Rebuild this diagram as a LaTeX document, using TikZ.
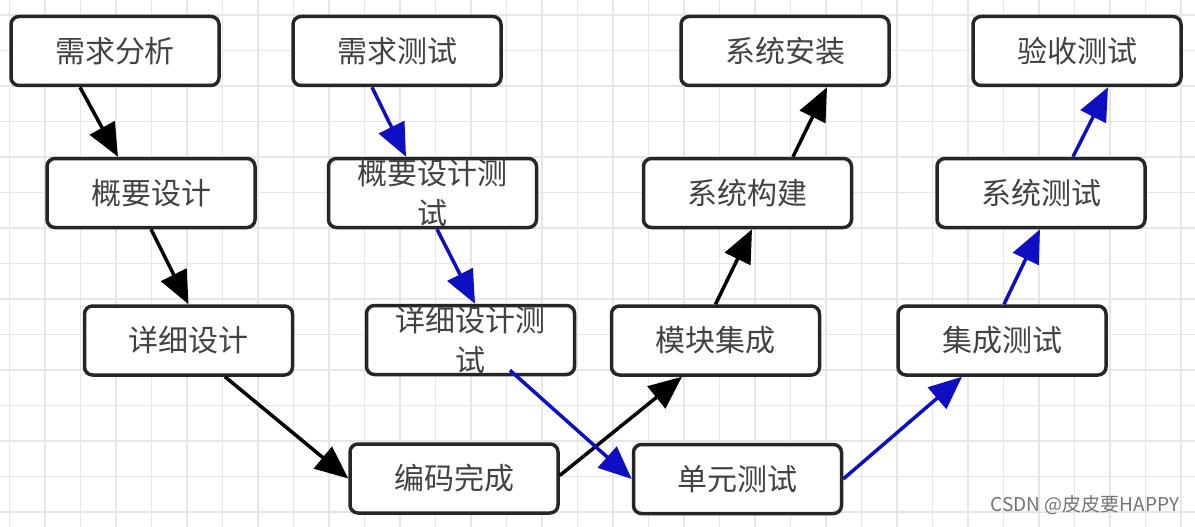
\documentclass[tikz,border=0pt]{standalone}
\usepackage{fontspec}
\setmainfont{Noto Sans CJK SC}
\usetikzlibrary{arrows.meta}
\definecolor{txtgray}{RGB}{66,66,66}
\definecolor{edgeblue}{RGB}{14,14,195}
\definecolor{gridgray}{RGB}{230,230,230}
\tikzset{
  stage/.style={draw=black!85,line width=3.5pt,rounded corners=8pt,fill=white,
    minimum width=208pt,minimum height=69pt,inner sep=0pt,text=txtgray,
    font=\fontsize{30}{40}\selectfont,align=center},
  blk/.style={line width=3.5pt,black,-{Triangle[length=33pt,width=28pt]}},
  blu/.style={blk,edgeblue}
}
\begin{document}
\begin{tikzpicture}[x=1pt,y=-1pt]
    \fill[white] (0,0) rectangle (1195,527);
    \useasboundingbox (0,0) rectangle (1195,527);
    % grid
    \foreach \gx in {9.5,45,...,1195} \draw[gridgray,line width=1.2pt] (\gx,0) -- (\gx,527);
    \foreach \gy in {15,50.5,...,527} \draw[gridgray,line width=1.2pt] (0,\gy) -- (1195,\gy);

    \node at (115,51) [stage] (a) {需求分析};
    \node at (397,51) [stage] (b) {需求测试};
    \node at (785,51) [stage] (c) {系统安装};
    \node at (1077,51) [stage] (d) {验收测试};

    \node at (151,193) [stage] (e) {概要设计};
    \node at (432.5,193) [stage] (f) {概要设计测\\试};
    \node at (747.5,193) [stage] (g) {系统构建};
    \node at (1041,193) [stage] (h) {系统测试};

    \node at (188.5,340.5) [stage] (i) {详细设计};
    \node at (470.5,340) [stage] (j) {详细设计测\\试};
    \node at (715.5,340.5) [stage] (k) {模块集成};
    \node at (1002,340.5) [stage] (l) {集成测试};

    \node at (454,478.5) [stage] (m) {编码完成};
    \node at (737.5,479) [stage] (n) {单元测试};

    \node at (1085,505) [text=black!55,font=\fontsize{19}{19}\selectfont] (wm) {CSDN @皮皮要HAPPY};

    % left branch
    \draw[blk] ([xshift=-35]a.south) -- ([xshift=-33]e.north);
    \draw[blk] (e.south) -- (i.north);
    \draw[blk] ([xshift=36.5]i.south) -- (m.west);
    \draw[blk] ([yshift=3]m.east) -- ([xshift=-33.5]k.south);
    \draw[blk] (k.north) -- ([xshift=4.5]g.south);
    \draw[blk] ([xshift=45.5]g.north) -- ([xshift=42]c.south);
    % test branch
    \draw[blu] ([xshift=-25]b.south) -- ([xshift=-26.5]f.north);
    \draw[blu] ([xshift=4.5]f.south) -- ([xshift=4.5]j.north);
    \draw[blu] ([xshift=39.5,yshift=6]j.south) -- (n.west);
    \draw[blu] (n.east) -- ([xshift=-40]l.south);
    \draw[blu] ([xshift=2]l.north) -- ([xshift=-1]h.south);
    \draw[blu] ([xshift=32]h.north) -- ([xshift=31]d.south);
\end{tikzpicture}
\end{document}
